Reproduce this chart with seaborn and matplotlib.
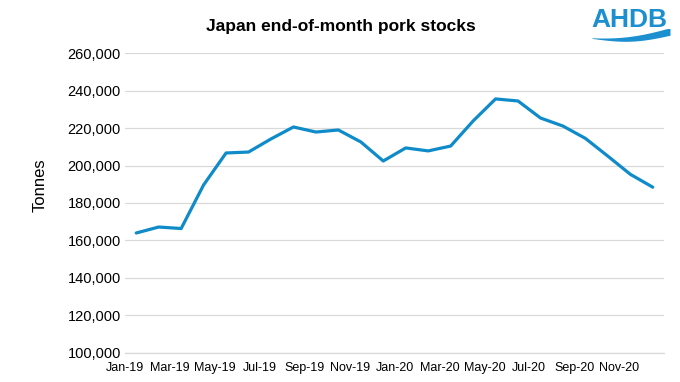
import numpy as np
import pandas as pd
import matplotlib
matplotlib.use("Agg")
import matplotlib.pyplot as plt
import seaborn as sns

# Monthly end-of-month pork stocks, tonnes
months = ["Jan-19", "Feb-19", "Mar-19", "Apr-19", "May-19", "Jun-19",
          "Jul-19", "Aug-19", "Sep-19", "Oct-19", "Nov-19", "Dec-19",
          "Jan-20", "Feb-20", "Mar-20", "Apr-20", "May-20", "Jun-20",
          "Jul-20", "Aug-20", "Sep-20", "Oct-20", "Nov-20", "Dec-20"]
stocks = [163900, 167100, 166300, 189600, 206700, 207200,
          214200, 220600, 217900, 219000, 212600, 202400,
          209400, 207800, 210400, 223800, 235600, 234500,
          225400, 221100, 214500, 205000, 195300, 188400]

y_ticks = [100000, 120000, 140000, 160000, 180000, 200000, 220000, 240000, 260000]

LINE_BLUE = "#0E8BC8"
LOGO_BLUE = "#1B8FD0"
GRID_GREY = "#D9D9D9"

sns.set_style("white")
plt.rcParams["font.family"] = ["Liberation Sans", "DejaVu Sans"]
plt.rcParams["text.color"] = "black"
plt.rcParams["xtick.labelcolor"] = "black"
plt.rcParams["ytick.labelcolor"] = "black"

df = pd.DataFrame({"month": months, "stocks": stocks})
df["pos"] = np.arange(len(df))

fig = plt.figure(figsize=(6.8, 3.82), dpi=100)
ax = fig.add_axes([125 / 680, 1 - 352.5 / 382, (664 - 125) / 680, (352.5 - 53.3) / 382])

sns.lineplot(data=df, x="pos", y="stocks", ax=ax, color=LINE_BLUE, linewidth=2.3)

ax.set_ylim(y_ticks[0], y_ticks[-1])
ax.set_xlim(-0.5, len(months) - 0.5)
ax.set_yticks(y_ticks)
ax.set_yticklabels([f"{v:,}" for v in y_ticks], fontsize=10.5)
ax.yaxis.grid(True, color=GRID_GREY, linewidth=0.9)
ax.set_axisbelow(True)

# category-boundary ticks, labels every second month
bounds = np.arange(-0.5, len(months) - 1, 2)
ax.set_xticks(list(bounds) + [len(months) - 0.5])
ax.set_xticklabels([months[int(b + 0.5)] for b in bounds] + [""], fontsize=9)
ax.tick_params(axis="x", direction="out", length=4.5, width=0.9, color=GRID_GREY,
               labelcolor="black", pad=2.5)
ax.tick_params(axis="y", length=0, pad=3, labelcolor="black")

for s in ["top", "right", "left"]:
    ax.spines[s].set_visible(False)
ax.spines["bottom"].set_color(GRID_GREY)
ax.spines["bottom"].set_linewidth(0.9)
ax.set_xlabel("")
ax.set_ylabel("")

fig.text(40 / 680, 1 - 185 / 382, "Tonnes", rotation=90, fontsize=12,
         ha="center", va="center", color="black")
fig.text(341 / 680, 1 - 27 / 382, "Japan end-of-month pork stocks",
         fontsize=12.5, fontweight="bold", ha="center", va="center", color="black")

# AHDB logo
fig.text(629 / 680, 1 - 20 / 382, "AHDB", fontsize=19, fontweight="bold",
         color=LOGO_BLUE, ha="center", va="center")
lax = fig.add_axes([592 / 680, 1 - 44 / 382, 78 / 680, 15 / 382])
t = np.linspace(0, 1, 100)
lower = 0.45 - 0.35 * np.sin(np.pi * t) + 0.25 * t
upper = lower + 0.05 + 0.55 * t ** 1.5 + 0.15 * np.sin(np.pi * t)
lax.fill_between(t, lower, upper, color=LOGO_BLUE, linewidth=0)
lax.set_xlim(0, 1)
lax.set_ylim(0, 1.2)
lax.axis("off")

fig.savefig("out.png", dpi=100)
